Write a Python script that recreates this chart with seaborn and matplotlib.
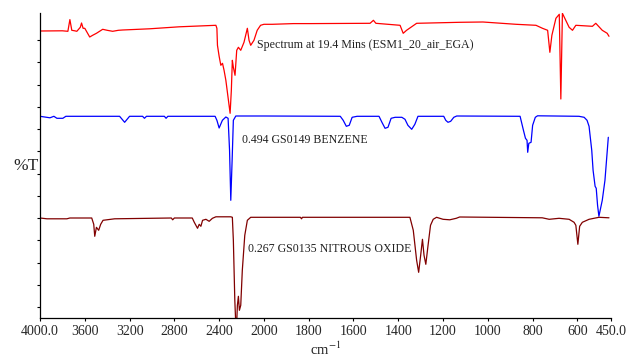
import numpy as np
import pandas as pd
import matplotlib
matplotlib.use("Agg")
import matplotlib.pyplot as plt
import seaborn as sns

# ---- data (wavenumber cm-1, stacked %T height) ----
red_w = [4000, 3800, 3751, 3733, 3716, 3690, 3671, 3640, 3629, 3615, 3600, 3556, 3530, 3496,
         3440, 3400, 3351, 3300, 3262, 3022, 2756, 2429, 2420, 2415, 2400, 2385, 2370, 2356,
         2340, 2317, 2302, 2291, 2282, 2273, 2258, 2243, 2228, 2207, 2178, 2148, 2133, 2118,
         2089, 2060, 2030, 2000, 1963, 1868, 1792, 1526, 1511, 1500, 1392, 1378, 1363, 1318,
         1126, 1022, 874, 785, 756, 733, 723, 714, 696, 681, 674, 667, 652, 637, 622, 607,
         533, 518, 489, 467, 459]
red_t = [287.3, 287.5, 287, 298.7, 288, 287.5, 287, 291, 295.3, 290, 290, 281.3, 283, 285,
         289, 288, 287, 288, 288.3, 289.5, 291.5, 293, 290, 273, 262, 253, 255, 248,
         238, 218, 205, 228, 258, 251, 243, 268, 271, 268, 276, 290, 278, 273,
         278, 288, 293, 294, 294, 294.7, 294.7, 295, 298, 295, 293, 285, 288, 295,
         296, 296.3, 294, 293, 290, 288, 266, 283, 300, 304, 219.3, 305, 298, 291, 288, 293,
         292, 295, 288, 285, 282]

blue_w = [4000, 3911, 3876, 3849, 3796, 3769, 3289, 3244, 3200, 3084, 3067, 3049, 2889, 2874,
          2858, 2436, 2420, 2400, 2371, 2340, 2320, 2307, 2296, 2284, 2273, 2251, 2000, 1659,
          1646, 1632, 1619, 1606, 1584, 1486, 1473, 1459, 1446, 1432, 1414, 1384, 1370, 1357,
          1340, 1326, 1312, 1197, 1188, 1178, 1166, 1152, 1139, 856, 841, 832, 825, 822, 817,
          807, 800, 788, 778, 593, 570, 557, 548, 536, 530, 521, 516, 510, 504, 489, 477, 462]
blue_t = [202, 200.5, 202, 200, 200, 202, 202, 196, 202, 202, 200, 202, 202, 200,
          202, 202, 198, 190.3, 198, 201.3, 200, 168, 118, 158, 198, 202.3, 202.3, 202,
          198, 192, 193, 201, 202, 202, 196, 190, 191, 200, 201, 201, 199, 193,
          189, 194, 202, 202, 198, 196, 197, 201, 202.3, 202, 188, 180, 178, 166, 175,
          176, 193, 201, 202.5, 202, 201, 198, 192, 168, 148, 132, 130, 113, 102, 118, 138, 181]

dred_w = [4000, 3938, 3760, 3733, 3538, 3520, 3511, 3496, 3476, 3458, 3437, 3333, 2827, 2815,
          2800, 2640, 2622, 2593, 2578, 2563, 2548, 2518, 2489, 2460, 2429, 2296, 2282, 2273,
          2260, 2251, 2244, 2237, 2228, 2219, 2207, 2193, 2171, 2148, 2118, 1837, 1832, 1828,
          1348, 1333, 1318, 1309, 1300, 1292, 1285, 1277, 1267, 1256, 1244, 1229, 1200, 1170,
          1141, 1126, 757, 726, 682, 637, 615, 607, 598, 590, 578, 548, 504, 459]
dred_t = [100.3, 99.5, 99.5, 100.3, 100.3, 94, 82, 91, 88, 94, 98, 99.5, 100.3, 98.5,
          100.3, 100.3, 96, 90, 94, 92, 98, 99, 97, 100, 101.5, 101.5, 101, 78,
          18, -7, -7, 13, 22, 8, 13, 48, 83, 98, 101, 101, 99.5, 101,
          101, 88, 58, 46, 63, 79, 63, 54, 73, 93, 99, 101, 99, 98.5,
          100, 101.3, 100.5, 99, 100, 99, 96, 93, 74, 92, 96, 99, 101, 100.5]

labels = ["Spectrum at 19.4 Mins (ESM1_20_air_EGA)",
          "0.494 GS0149 BENZENE",
          "0.267 GS0135 NITROUS OXIDE"]
colors = ["#ff0000", "#0000ff", "#800000"]
xticks = [4000, 3600, 3200, 2800, 2400, 2000, 1800, 1600, 1400, 1200, 1000, 800, 600, 450]
xticklabels = ["4000.0", "3600", "3200", "2800", "2400", "2000", "1800", "1600", "1400",
               "1200", "1000", "800", "600", "450.0"]

sns.set_style("ticks")
plt.rcParams["font.family"] = ["Liberation Serif", "DejaVu Serif"]
plt.rcParams["mathtext.fontset"] = "stix"

fig = plt.figure(figsize=(6.3, 3.61), dpi=100)
ax = fig.add_axes([40 / 630, (361 - 318.3) / 361, 571 / 630, 305.6 / 361])

def fwd(w):
    w = np.asarray(w, dtype=float)
    return np.where(w > 2000, 2000 + (w - 2000) / 2, w)

def inv(u):
    u = np.asarray(u, dtype=float)
    return np.where(u > 2000, 2000 + (u - 2000) * 2, u)

ax.set_xscale("function", functions=(fwd, inv))

for (w, t, c) in [(red_w, red_t, colors[0]), (blue_w, blue_t, colors[1]), (dred_w, dred_t, colors[2])]:
    df = pd.DataFrame({"w": w, "t": t})
    sns.lineplot(data=df, x="w", y="t", color=c, lw=0.9, ax=ax, sort=True, estimator=None)

ax.set_xlim(4000, 450)
ax.set_ylim(0, 305.6)
ax.set_xticks(xticks)
ax.set_xticklabels(xticklabels, fontsize=10)
ax.set_yticks([278.3 - 22.275 * k for k in range(13)])
ax.set_yticklabels([])
ax.tick_params(axis="both", direction="out", length=2.5, width=0.8, color="black", pad=2)
ax.minorticks_off()
for s in ["top", "right"]:
    ax.spines[s].set_visible(False)
for s in ["left", "bottom"]:
    ax.spines[s].set_linewidth(0.9)
    ax.spines[s].set_color("black")

ax.set_xlabel("cm$^{-1}$", fontsize=10.5, labelpad=2)
ax.set_ylabel("")
fig.text(13 / 630, 1 - 166 / 361, "%T", fontsize=12.5, ha="left", va="center")

ax.text(2062, 273, labels[0], fontsize=8.6, ha="left", va="center", color="#222222")
ax.text(2196, 178, labels[1], fontsize=8.6, ha="left", va="center", color="#222222")
ax.text(2142, 69.7, labels[2], fontsize=8.6, ha="left", va="center", color="#222222")

fig.savefig("out.png", dpi=100)
